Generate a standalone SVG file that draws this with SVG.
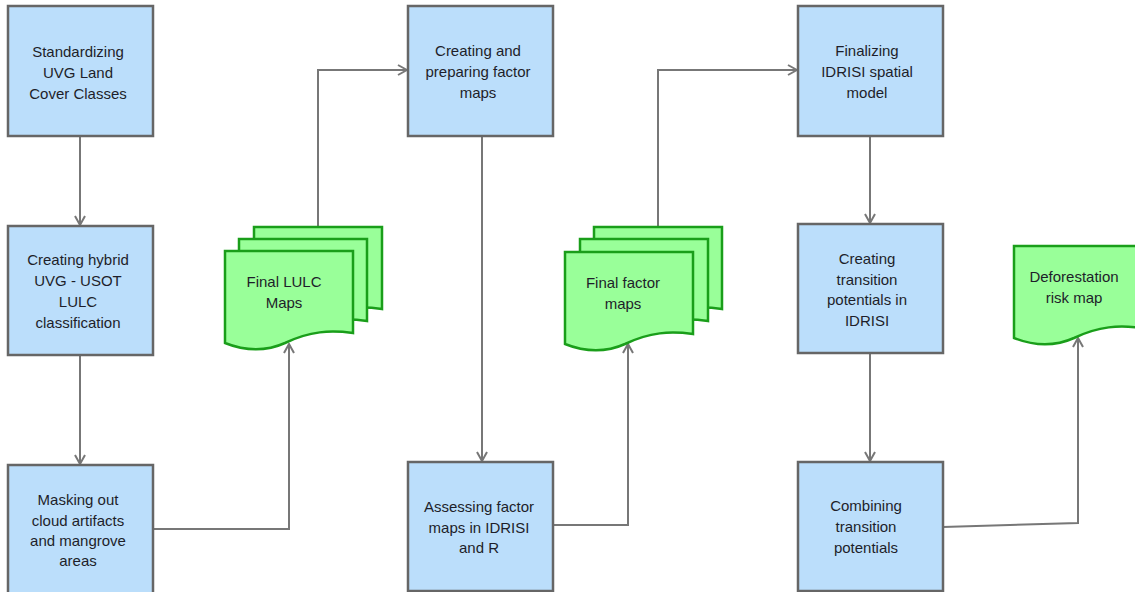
<svg xmlns="http://www.w3.org/2000/svg" width="1135" height="592" viewBox="0 0 1135 592">
<defs>
<style>
.box{fill:#bbdefb;stroke:#666;stroke-width:2.5}
.doc{fill:#99ff99;stroke:#1a9e1a;stroke-width:2.5}
.t{font-family:"Liberation Sans",Arial,sans-serif;font-size:15px;fill:#1e1e2a;text-anchor:middle}
.c{fill:none;stroke:#777;stroke-width:2}
</style>
<marker id="a" viewBox="0 0 12 12" refX="11" refY="6" markerWidth="12" markerHeight="12" markerUnits="userSpaceOnUse" orient="auto">
<path d="M2,1 L11,6 L2,11" fill="none" stroke="#777" stroke-width="2"/>
</marker>
<path id="d" d="M0,0 H128 V82 C105,79 85,80 60,92 C40,101 20,100 0,92 Z"/>
</defs>
<rect width="1135" height="592" fill="#fff"/>
<g id="connectors">
<path class="c" d="M80,136 V225" marker-end="url(#a)"/>
<path class="c" d="M80,355 V464" marker-end="url(#a)"/>
<path class="c" d="M153,529 H289 V344" marker-end="url(#a)"/>
<path class="c" d="M318,227 V70 H407" marker-end="url(#a)"/>
<path class="c" d="M482,136 V461" marker-end="url(#a)"/>
<path class="c" d="M553,525 H628 V344" marker-end="url(#a)"/>
<path class="c" d="M658,227 V70 H797" marker-end="url(#a)"/>
<path class="c" d="M870,136 V223" marker-end="url(#a)"/>
<path class="c" d="M870,353 V461" marker-end="url(#a)"/>
<path class="c" d="M943,527 L1078,523 V338" marker-end="url(#a)"/>
</g>
<g id="n1"><rect class="box" x="8" y="6" width="145" height="130"/>
<text class="t" x="78" y="57">Standardizing</text><text class="t" x="78" y="78">UVG Land</text><text class="t" x="78" y="99">Cover Classes</text></g>
<g id="n2"><rect class="box" x="8" y="226" width="145" height="129"/>
<text class="t" x="78" y="265">Creating hybrid</text><text class="t" x="78" y="286">UVG - USOT</text><text class="t" x="78" y="307">LULC</text><text class="t" x="78" y="328">classification</text></g>
<g id="n3"><rect class="box" x="8" y="465" width="145" height="130"/>
<text class="t" x="78" y="505">Masking out</text><text class="t" x="78" y="526">cloud artifacts</text><text class="t" x="78" y="546">and mangrove</text><text class="t" x="78" y="566">areas</text></g>
<g id="n4"><use href="#d" class="doc" x="254" y="227"/><use href="#d" class="doc" x="239" y="239"/><use href="#d" class="doc" x="225" y="251"/>
<text class="t" x="284" y="287">Final LULC</text><text class="t" x="284" y="308">Maps</text></g>
<g id="n5"><rect class="box" x="408" y="6" width="145" height="130"/>
<text class="t" x="478" y="56">Creating and</text><text class="t" x="478" y="77">preparing factor</text><text class="t" x="478" y="98">maps</text></g>
<g id="n6"><rect class="box" x="408" y="462" width="145" height="129"/>
<text class="t" x="479" y="512">Assessing factor</text><text class="t" x="479" y="533">maps in IDRISI</text><text class="t" x="479" y="553">and R</text></g>
<g id="n7"><use href="#d" class="doc" x="594" y="227"/><use href="#d" class="doc" x="580" y="239"/><use href="#d" class="doc" x="565" y="252"/>
<text class="t" x="623" y="288">Final factor</text><text class="t" x="623" y="309">maps</text></g>
<g id="n8"><rect class="box" x="798" y="6" width="145" height="130"/>
<text class="t" x="867" y="56">Finalizing</text><text class="t" x="867" y="77">IDRISI spatial</text><text class="t" x="867" y="98">model</text></g>
<g id="n9"><rect class="box" x="798" y="224" width="145" height="129"/>
<text class="t" x="867" y="264">Creating</text><text class="t" x="867" y="285">transition</text><text class="t" x="867" y="305">potentials in</text><text class="t" x="867" y="326">IDRISI</text></g>
<g id="n10"><rect class="box" x="798" y="462" width="145" height="129"/>
<text class="t" x="866" y="511">Combining</text><text class="t" x="866" y="532">transition</text><text class="t" x="866" y="553">potentials</text></g>
<g id="n11"><use href="#d" class="doc" x="1014" y="246"/>
<text class="t" x="1074" y="282">Deforestation</text><text class="t" x="1074" y="303">risk map</text></g>
</svg>
